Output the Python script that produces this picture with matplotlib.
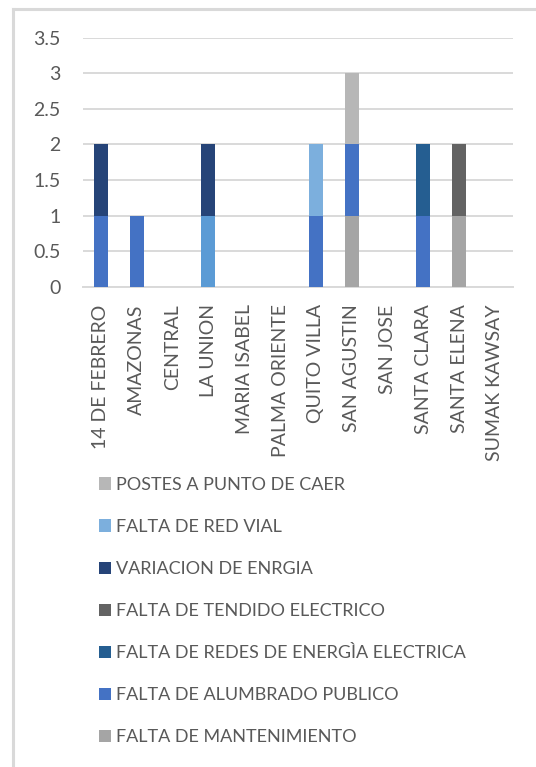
import matplotlib
matplotlib.use("Agg")
import matplotlib.pyplot as plt
import numpy as np
from matplotlib.patches import Patch
from matplotlib.lines import Line2D

plt.rcParams['font.family'] = ['Lato', 'DejaVu Sans']

barrios = ['14 DE FEBRERO', 'AMAZONAS', 'CENTRAL', 'LA UNION', 'MARIA ISABEL',
           'PALMA ORIENTE', 'QUITO VILLA', 'SAN AGUSTIN', 'SAN JOSE',
           'SANTA CLARA', 'SANTA ELENA', 'SUMAK KAWSAY']

# series in stacking order (bottom -> top)
mantenimiento = [0, 0, 0, 0, 0, 0, 0, 1, 0, 0, 1, 0]
alumbrado     = [1, 1, 0, 0, 0, 0, 1, 1, 0, 1, 0, 0]
otro          = [0, 0, 0, 1, 0, 0, 0, 0, 0, 0, 0, 0]
redes         = [0, 0, 0, 0, 0, 0, 0, 0, 0, 1, 0, 0]
tendido       = [0, 0, 0, 0, 0, 0, 0, 0, 0, 0, 1, 0]
variacion     = [1, 0, 0, 1, 0, 0, 0, 0, 0, 0, 0, 0]
red_vial      = [0, 0, 0, 0, 0, 0, 1, 0, 0, 0, 0, 0]
postes        = [0, 0, 0, 0, 0, 0, 0, 1, 0, 0, 0, 0]

series = [
    ('FALTA DE MANTENIMIENTO', mantenimiento, '#A5A5A5'),
    ('FALTA DE ALUMBRADO PUBLICO', alumbrado, '#4472C4'),
    ('OTRO', otro, '#5B9BD5'),
    ('FALTA DE REDES DE ENERGÌA ELECTRICA', redes, '#255E91'),
    ('FALTA DE TENDIDO ELECTRICO', tendido, '#636363'),
    ('VARIACION DE ENRGIA', variacion, '#264478'),
    ('FALTA DE RED VIAL', red_vial, '#7CAFDD'),
    ('POSTES A PUNTO DE CAER', postes, '#B7B7B7'),
]
legend_order = ['POSTES A PUNTO DE CAER', 'FALTA DE RED VIAL', 'VARIACION DE ENRGIA',
                'FALTA DE TENDIDO ELECTRICO', 'FALTA DE REDES DE ENERGÌA ELECTRICA',
                'FALTA DE ALUMBRADO PUBLICO', 'FALTA DE MANTENIMIENTO']

txt = '#595959'
grid = '#D9D9D9'

fig = plt.figure(figsize=(5.36, 7.67), dpi=100)
ax = fig.add_axes([0.1549, 0.6258, 0.802, 0.3253])

x = np.arange(len(barrios))
bottom = np.zeros(len(barrios))
colors = {}
for name, vals, col in series:
    vals = np.array(vals, dtype=float)
    ax.bar(x, vals, width=0.39, bottom=bottom, color=col, zorder=3)
    bottom += vals
    colors[name] = col

ax.set_xlim(-0.5, len(barrios) - 0.5)
ax.set_ylim(0, 3.5)
ax.set_yticks(np.arange(0, 3.51, 0.5))
ax.set_yticklabels(['0', '0.5', '1', '1.5', '2', '2.5', '3', '3.5'])
ax.set_xticks(x)
ax.set_xticklabels(barrios, rotation=90)
ax.tick_params(axis='y', length=0, pad=16, labelsize=14, labelcolor=txt)
ax.tick_params(axis='x', length=0, pad=12.5, labelsize=14, labelcolor=txt)
ax.grid(axis='y', color=grid, linewidth=1.4, zorder=0)
for s in ['top', 'right', 'left']:
    ax.spines[s].set_visible(False)
ax.spines['bottom'].set_color(grid)
ax.spines['bottom'].set_linewidth(1.4)

handles = [Patch(facecolor=colors[n], edgecolor='none') for n in legend_order]
fig.legend(handles, legend_order, loc='upper left', bbox_to_anchor=(0.1847, 0.3784),
           frameon=False, fontsize=13, labelcolor=txt, handlelength=0.66,
           handleheight=0.66, handletextpad=0.28, labelspacing=1.445,
           borderpad=0, borderaxespad=0)

# chart frame
fig.add_artist(Line2D([13 / 536, 13 / 536], [0, 1 - 8.5 / 767], color=grid, lw=2.2,
                      transform=fig.transFigure))
fig.add_artist(Line2D([13 / 536, 1], [1 - 8.5 / 767, 1 - 8.5 / 767], color=grid, lw=2.2,
                      transform=fig.transFigure))

fig.savefig('out.png', dpi=100)
